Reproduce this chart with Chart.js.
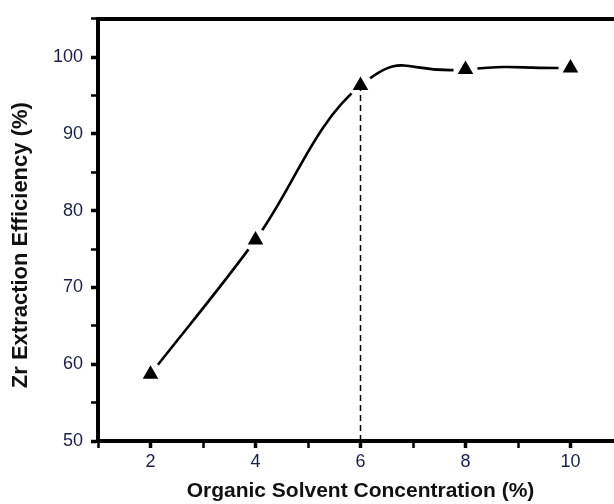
<!DOCTYPE html>
<html>
<head>
<meta charset="utf-8">
<script src="https://cdn.jsdelivr.net/npm/chart.js@4.4.1/dist/chart.umd.min.js"></script>
<style>
  html, body { margin: 0; padding: 0; background: #fff; overflow: hidden; }
  #wrap { width: 614px; height: 504px; overflow: hidden; }
</style>
</head>
<body>
<div id="wrap"><canvas id="chart" width="640" height="504"></canvas></div>
<script>
// solvent concentration (%) vs Zr extraction efficiency (%)
const concentration = [2, 4, 6, 8, 10];
const efficiency = [58.7, 76.2, 96.3, 98.4, 98.6];
const xLabels = [2, 4, 6, 8, 10];
const yLabels = [50, 60, 70, 80, 90, 100];
const dropIndex = 2; // dashed guide down from the 6 % point

const pts = concentration.map((x, i) => ({x: x, y: efficiency[i]}));
const drop = [
    {x: concentration[dropIndex], y: 50},
    {x: concentration[dropIndex], y: efficiency[dropIndex]}
];
// the smooth curve is drawn in two pieces so the rise and the plateau
// can each get their own tension; a hidden end segment keeps the joins smooth
const risePts = pts.slice(0, 4);
const plateauPts = pts.slice(1);

const tickFont = {family: "'Liberation Sans Narrow', 'Liberation Sans', Arial, sans-serif", size: 18};
const titleFont = {family: "'Liberation Sans', Arial, sans-serif", size: 21, weight: 'bold'};

new Chart(document.getElementById('chart').getContext('2d'), {
    type: 'line',
    data: {
        datasets: [
            {
                label: 'markers',
                data: pts,
                showLine: false,
                pointStyle: 'triangle',
                pointRadius: 9,
                pointBackgroundColor: '#000',
                pointBorderWidth: 0
            },
            {
                label: 'drop',
                data: drop,
                borderColor: '#000',
                borderWidth: 1.5,
                borderDash: [6, 4],
                pointRadius: 0
            },
            {
                label: 'gap',
                data: pts,
                showLine: false,
                pointStyle: 'circle',
                pointRadius: 12,
                pointBackgroundColor: '#fff',
                pointBorderWidth: 0
            },
            {
                label: 'rise',
                data: risePts,
                borderColor: '#000',
                borderWidth: 2.6,
                tension: 0.35,
                pointRadius: 0,
                fill: false,
                segment: {
                    borderColor: (ctx) => ctx.p0DataIndex === risePts.length - 2 ? 'rgba(0,0,0,0)' : '#000'
                }
            },
            {
                label: 'plateau',
                data: plateauPts,
                borderColor: '#000',
                borderWidth: 2.6,
                tension: 0.6,
                pointRadius: 0,
                fill: false,
                segment: {
                    borderColor: (ctx) => ctx.p0DataIndex === 0 ? 'rgba(0,0,0,0)' : '#000'
                }
            }
        ]
    },
    options: {
        responsive: false,
        animation: false,
        layout: {padding: {top: 14, right: 17, left: 0, bottom: 0}},
        plugins: {legend: {display: false}, tooltip: {enabled: false}},
        scales: {
            x: {
                type: 'linear',
                position: 'bottom',
                min: 1,
                max: 11,
                afterFit: (s) => { s.height = 63; },
                border: {display: true, color: '#000', width: 4},
                grid: {
                    drawOnChartArea: false,
                    drawTicks: true,
                    tickLength: 7,
                    tickColor: '#000',
                    tickWidth: (ctx) => xLabels.includes(ctx.tick && ctx.tick.value) ? 3.5 : 2.5
                },
                ticks: {
                    stepSize: 1,
                    includeBounds: false,
                    autoSkip: false,
                    maxRotation: 0,
                    padding: 3,
                    color: '#18204a',
                    font: tickFont,
                    callback: (v) => xLabels.includes(v) ? String(v) : ''
                },
                title: {
                    display: true,
                    text: 'Organic Solvent Concentration (%)',
                    color: '#111',
                    font: titleFont,
                    padding: {top: 0, bottom: 0}
                }
            },
            x2: {
                type: 'linear',
                position: 'top',
                min: 1,
                max: 11,
                display: true,
                afterFit: (s) => { s.height = 0; },
                border: {display: true, color: '#000', width: 4},
                grid: {display: false},
                ticks: {display: false}
            },
            y: {
                type: 'linear',
                min: 50,
                max: 105,
                afterFit: (s) => { s.width = 98; },
                border: {display: true, color: '#000', width: 4},
                grid: {
                    drawOnChartArea: false,
                    drawTicks: true,
                    tickLength: 7,
                    tickColor: '#000',
                    tickWidth: (ctx) => yLabels.includes(ctx.tick && ctx.tick.value) ? 3.5 : 2.5
                },
                ticks: {
                    stepSize: 5,
                    includeBounds: false,
                    autoSkip: false,
                    padding: 8,
                    color: '#18204a',
                    font: tickFont,
                    callback: (v) => yLabels.includes(v) ? String(v) : ''
                },
                title: {
                    display: true,
                    // trailing spaces push the visible text a little lower, as in the original
                    text: 'Zr Extraction Efficiency (%)\u00a0\u00a0\u00a0\u00a0\u00a0',
                    color: '#111',
                    font: {family: "'Liberation Sans', Arial, sans-serif", size: 22, weight: 'bold'},
                    padding: {top: 8, bottom: 0}
                }
            }
        }
    }
});
</script>
</body>
</html>
